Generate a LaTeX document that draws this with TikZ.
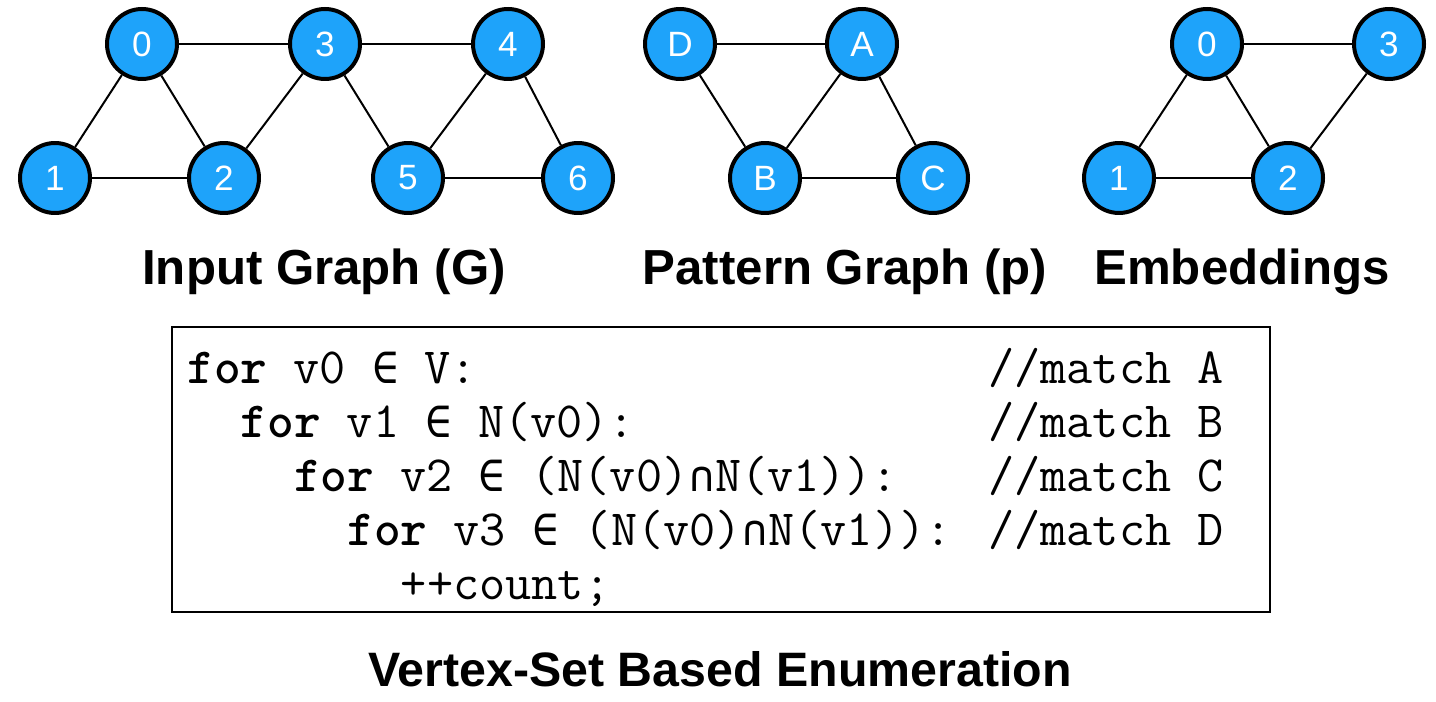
\documentclass[tikz,border=0pt]{standalone}
\usepackage{fontspec}
\setmainfont{Liberation Sans}
\newfontfamily\symmono{DejaVu Sans Mono}
\definecolor{vblue}{RGB}{30,163,250}
\newcommand{\elem}{\makebox[0.525em][c]{\symmono\fontsize{25}{25}\selectfont ∈}}
\newcommand{\capset}{\makebox[0.525em][c]{\symmono\fontsize{24}{24}\selectfont ∩}}

\tikzset{
    vtx/.style={circle, draw, line width=0.08cm, fill=vblue, minimum size=1.4cm,
        inner sep=0pt, text=white, font=\fontsize{20}{20}\selectfont},
    edge/.style={line width=0.04cm},
    title/.style={anchor=base, inner sep=0pt, font=\fontsize{28}{28}\selectfont\bfseries},
    code/.style={anchor=base west, inner sep=0pt, font=\fontsize{28.9}{30}\selectfont\ttfamily},
}

\begin{document}
\begin{tikzpicture}[x=0.02cm, y=-0.02cm]
    \useasboundingbox (0,0) rectangle (1436,702);

    \foreach \n/\x/\y in {0/142/44, 3/325/44, 4/508/44, 1/55/178, 2/224/178, 5/408/178, 6/578/178}{
      \node[vtx] (g\n) at (\x,\y) {\n};
    }
    \foreach \a/\b in {0/3, 3/4, 0/1, 0/2, 1/2, 2/3, 3/5, 4/5, 5/6, 4/6}{
      \draw[edge] (g\a) -- (g\b);
    }

    \foreach \n/\x/\y in {D/680/44, A/862/44, B/765/178, C/933/178}{
      \node[vtx] (p\n) at (\x,\y) {\n};
    }
    \foreach \a/\b in {D/A, D/B, A/B, A/C, B/C}{
      \draw[edge] (p\a) -- (p\b);
    }

    \foreach \n/\x/\y in {0/1207/44, 3/1389/44, 1/1119/178, 2/1288/178}{
      \node[vtx] (e\n) at (\x,\y) {\n};
    }
    \foreach \a/\b in {0/3, 0/1, 0/2, 1/2, 2/3}{
      \draw[edge] (e\a) -- (e\b);
    }

    \node[title] (tin) at (324,285) {Input Graph (G)};
    \node[title] (tpat) at (845,285) {Pattern Graph (p)};
    \node[title] (temb) at (1242,285) {Embeddings};

    \draw[line width=0.04cm] (172,327) rectangle (1270,612);
    \foreach \i/\txt in {0/{\textbf{for} v0 \elem{} V:},
                         1/{\textbf{for} v1 \elem{} N(v0):},
                         2/{\textbf{for} v2 \elem{} (N(v0)\capset{}N(v1)):},
                         3/{\textbf{for} v3 \elem{} (N(v0)\capset{}N(v1)):},
                         4/{++count;}}{
      \node[code] (line\i) at (187+53.4*\i, 383+54*\i) {\txt};
    }
    \foreach \i/\v in {0/A, 1/B, 2/C, 3/D}{
      \node[code] (cmt\i) at (988, 383+54*\i) {//match \v};
    }

    \node[title, font=\fontsize{27.5}{28}\selectfont\bfseries] (tenum) at (720,686) {Vertex-Set Based Enumeration};
\end{tikzpicture}
\end{document}
